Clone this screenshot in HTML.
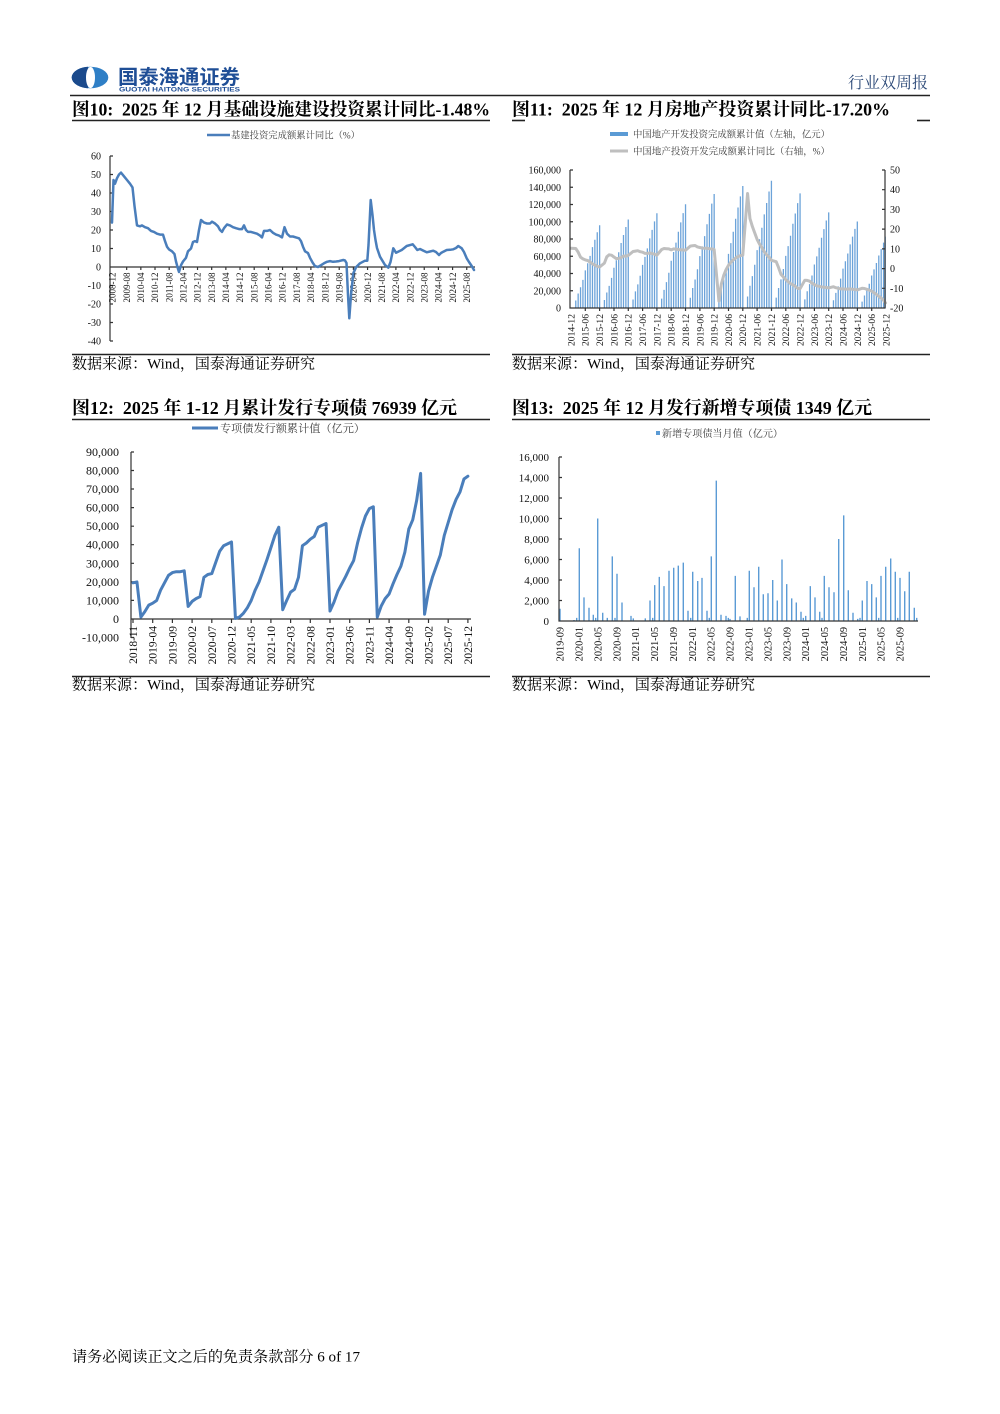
<!DOCTYPE html>
<html><head><meta charset="utf-8">
<style>
html,body{margin:0;padding:0;background:#fff;}
svg{display:block;}
.s{font-family:"Liberation Serif","Noto Serif CJK SC",serif;}
.b{font-family:"Liberation Serif","Noto Serif CJK SC",serif;font-weight:bold;}
.h{font-family:"Liberation Sans","Noto Sans CJK SC",sans-serif;font-weight:bold;}
.ax{stroke:#333;stroke-width:1.2;fill:none;}
.tk{font-family:"Liberation Serif",serif;fill:#111;}
</style></head>
<body>
<svg width="1000" height="1414" viewBox="0 0 1000 1414" xmlns="http://www.w3.org/2000/svg">
<rect width="1000" height="1414" fill="#fff"/>
<defs><clipPath id="lc"><rect x="60" y="60" width="28" height="40"/></clipPath></defs>
<!-- Header -->
<ellipse cx="90" cy="77.5" rx="18.3" ry="10.8" fill="#2f7fc6"/>
<ellipse cx="90" cy="77.5" rx="18.3" ry="10.8" fill="#1b4a8c" clip-path="url(#lc)"/>
<ellipse cx="90.5" cy="77.5" rx="4.5" ry="10.6" fill="#fff"/>
<text x="118" y="84" class="h" font-size="20" fill="#1f4e96" textLength="122" lengthAdjust="spacingAndGlyphs">国泰海通证券</text>
<text x="119" y="91.5" font-family="Liberation Sans,sans-serif" font-weight="bold" font-size="6.5" fill="#1f4e96" textLength="121" lengthAdjust="spacingAndGlyphs">GUOTAI HAITONG SECURITIES</text>
<text x="848" y="88" class="s" font-size="16" fill="#2b4877" textLength="80" lengthAdjust="spacingAndGlyphs">行业双周报</text>
<line x1="70" y1="95.5" x2="930" y2="95.5" stroke="#222" stroke-width="1.6"/>

<!-- Titles -->
<text x="72" y="115.5" class="b" font-size="18" fill="#000" textLength="418" lengthAdjust="spacingAndGlyphs" xml:space="preserve">图10:  2025 年 12 月基础设施建设投资累计同比-1.48%</text>
<line x1="72" y1="120.5" x2="490" y2="120.5" stroke="#222" stroke-width="1.6"/>
<text x="512" y="115.5" class="b" font-size="18" fill="#000" textLength="378" lengthAdjust="spacingAndGlyphs" xml:space="preserve">图11:  2025 年 12 月房地产投资累计同比-17.20%</text>
<line x1="512" y1="120.5" x2="525" y2="120.5" stroke="#222" stroke-width="1.6"/>
<line x1="917" y1="120.5" x2="930" y2="120.5" stroke="#222" stroke-width="1.6"/>

<!-- ================= Chart 10 ================= -->
<line x1="207" y1="135" x2="230" y2="135" stroke="#4a7ebb" stroke-width="2.5"/>
<text x="231" y="138.5" class="s" font-size="9.5" fill="#404040" textLength="129" lengthAdjust="spacingAndGlyphs">基建投资完成额累计同比（%）</text>
<g class="tk" font-size="10" text-anchor="end">
<text x="101" y="159.5">60</text><text x="101" y="178">50</text><text x="101" y="196.5">40</text><text x="101" y="215">30</text><text x="101" y="233.5">20</text><text x="101" y="252">10</text><text x="101" y="270.5">0</text><text x="101" y="289">-10</text><text x="101" y="307.5">-20</text><text x="101" y="326">-30</text><text x="101" y="344.5">-40</text>
</g>
<path class="ax" d="M110 156V341 M110 156h3 M110 174.5h3 M110 193h3 M110 211.5h3 M110 230h3 M110 248.5h3 M110 285.5h3 M110 304h3 M110 322.5h3 M110 341h3"/>
<path class="ax" d="M110 267H475 M126.67 267v3 M140.84 267v3 M155.01 267v3 M169.18 267v3 M183.35 267v3 M197.52 267v3 M211.69 267v3 M225.86 267v3 M240.03 267v3 M254.2 267v3 M268.37 267v3 M282.54 267v3 M296.71 267v3 M310.88 267v3 M325.05 267v3 M339.22 267v3 M353.39 267v3 M367.56 267v3 M381.73 267v3 M395.9 267v3 M410.07 267v3 M424.24 267v3 M438.41 267v3 M452.58 267v3 M466.75 267v3"/>
<g class="tk" font-size="9" text-anchor="end">
<text transform="translate(115.7,272.5) rotate(-90)">2008-12</text>
<text transform="translate(129.87,272.5) rotate(-90)">2009-08</text>
<text transform="translate(144.04,272.5) rotate(-90)">2010-04</text>
<text transform="translate(158.21,272.5) rotate(-90)">2010-12</text>
<text transform="translate(172.38,272.5) rotate(-90)">2011-08</text>
<text transform="translate(186.55,272.5) rotate(-90)">2012-04</text>
<text transform="translate(200.72,272.5) rotate(-90)">2012-12</text>
<text transform="translate(214.89,272.5) rotate(-90)">2013-08</text>
<text transform="translate(229.06,272.5) rotate(-90)">2014-04</text>
<text transform="translate(243.23,272.5) rotate(-90)">2014-12</text>
<text transform="translate(257.4,272.5) rotate(-90)">2015-08</text>
<text transform="translate(271.57,272.5) rotate(-90)">2016-04</text>
<text transform="translate(285.74,272.5) rotate(-90)">2016-12</text>
<text transform="translate(299.91,272.5) rotate(-90)">2017-08</text>
<text transform="translate(314.08,272.5) rotate(-90)">2018-04</text>
<text transform="translate(328.25,272.5) rotate(-90)">2018-12</text>
<text transform="translate(342.42,272.5) rotate(-90)">2019-08</text>
<text transform="translate(356.59,272.5) rotate(-90)">2020-04</text>
<text transform="translate(370.76,272.5) rotate(-90)">2020-12</text>
<text transform="translate(384.93,272.5) rotate(-90)">2021-08</text>
<text transform="translate(399.1,272.5) rotate(-90)">2022-04</text>
<text transform="translate(413.27,272.5) rotate(-90)">2022-12</text>
<text transform="translate(427.44,272.5) rotate(-90)">2023-08</text>
<text transform="translate(441.61,272.5) rotate(-90)">2024-04</text>
<text transform="translate(455.78,272.5) rotate(-90)">2024-12</text>
<text transform="translate(469.95,272.5) rotate(-90)">2025-08</text>
</g>
<polyline fill="none" stroke="#4a7ebb" stroke-width="2.5" stroke-linejoin="round" stroke-linecap="round" points="112,222.6 113.5,180 115,183.7 117,178.2 119,174.5 121,172.6 124,176.3 127,180 130,183.7 132.5,187.4 134.5,206 137,225.4 140,226.3 142,225.4 145,227.2 148,228.2 151,230.9 154,231.9 157,233.7 160,234.6 163,234.6 165,241.1 167,246.7 169,249.4 172,251.3 174.5,254.1 176,261.5 178,268.9 179,272 181,265.2 183,261.5 186,257.8 188,251.3 191,248.5 193,242 195,241.1 197,242 199,230 201,220 204,222.6 207,223.5 210,223.5 212,221.7 215,223.5 218,226.3 220,230 222,231.9 224,228.2 227,224.5 230,225.4 233,227.2 236,228.2 239,229.1 242,229.1 244,225.4 246,230 248,231.9 251,231.9 254,232.8 257,233.7 260,235.6 262,237.4 264,230.9 267,230.9 270,230 273,232.8 276,234.6 279,235.6 282,237.4 284.5,227.2 287,233.7 290,236.5 293,236.5 296,237.4 299,238.3 301,241.1 303,246.7 305,251.3 308,253.1 310,257.8 312.5,262.4 315,266.1 318,267 321,265.2 324,263.3 327,261.8 330,261.1 333,261.8 336,261.5 339,261.1 343.3,260 345,260.5 346.5,263 348,295 349.3,318.3 351,295 353.3,273.3 356,267.3 360,263.3 365,260.7 367.3,260.7 368.5,245 370.7,200 372.5,215 374,230 375.5,240 377,248 380,256.7 385,265 388.3,267.7 390.5,262 393.3,248.3 396,252.7 401.7,250 406.7,246 412.7,244.3 415,247 417.3,250 420,249 423,250.5 426.7,252.3 430,251.5 433.3,250.7 436,252 439,255 441,253 443.3,251.7 446.7,250 450,249.8 453.3,249.3 456,248 458.3,246 461.7,248.3 464,252 466.7,258.3 469,262 471.7,266 474,270"/>

<line x1="72" y1="354.5" x2="490" y2="354.5" stroke="#222" stroke-width="1.6"/>
<text x="72" y="368.5" class="s" font-size="15" fill="#000" textLength="243" lengthAdjust="spacingAndGlyphs">数据来源：Wind，国泰海通证券研究</text>

<!-- ================= Chart 11 ================= -->
<rect x="610" y="132" width="18" height="4" fill="#5b9bd5"/>
<text x="633" y="137.5" class="s" font-size="9.5" fill="#404040" textLength="197" lengthAdjust="spacingAndGlyphs">中国地产开发投资完成额累计值（左轴，亿元）</text>
<line x1="610" y1="151" x2="628" y2="151" stroke="#bfbfbf" stroke-width="3"/>
<text x="633" y="154.5" class="s" font-size="9.5" fill="#404040" textLength="197" lengthAdjust="spacingAndGlyphs">中国地产投资开发完成额累计同比（右轴，%）</text>
<g class="tk" font-size="10" text-anchor="end">
<text x="561" y="173.5">160,000</text><text x="561" y="190.75">140,000</text><text x="561" y="208">120,000</text><text x="561" y="225.25">100,000</text><text x="561" y="242.5">80,000</text><text x="561" y="259.75">60,000</text><text x="561" y="277">40,000</text><text x="561" y="294.25">20,000</text><text x="561" y="311.5">0</text>
</g>
<g class="tk" font-size="10">
<text x="890" y="173.5">50</text><text x="890" y="193.2">40</text><text x="890" y="212.9">30</text><text x="890" y="232.6">20</text><text x="890" y="252.4">10</text><text x="890" y="272.1">0</text><text x="890" y="291.8">-10</text><text x="890" y="311.5">-20</text>
</g>
<g fill="none" stroke="#6ca3d9" stroke-width="1.3">
<path d="M575.77 308V300.55M578.16 308V293.51M580.54 308V287.3M582.93 308V279.85M585.32 308V270.34M587.7 308V263.3M590.09 308V255.85M592.47 308V247.16M594.86 308V239.71M597.25 308V232.26M599.63 308V225.22"/>
<path d="M604.4 308V300.04M606.79 308V292.52M609.18 308V285.88M611.56 308V277.92M613.95 308V267.74M616.33 308V260.22M618.72 308V252.26M621.11 308V242.97M623.49 308V235M625.88 308V227.04M628.26 308V219.52"/>
<path d="M633.04 308V299.48M635.42 308V291.43M637.81 308V284.32M640.19 308V275.8M642.58 308V264.91M644.97 308V256.86M647.35 308V248.34M649.74 308V238.4M652.12 308V229.87M654.51 308V221.35M656.9 308V213.3"/>
<path d="M661.67 308V298.66M664.05 308V289.85M666.44 308V282.07M668.83 308V272.73M671.21 308V260.8M673.6 308V251.99M675.98 308V242.65M678.37 308V231.76M680.76 308V222.42M683.14 308V213.09M685.53 308V204.27"/>
<path d="M690.3 308V297.74M692.69 308V288.05M695.07 308V279.49M697.46 308V269.23M699.84 308V256.12M702.23 308V246.43M704.62 308V236.17M707 308V224.2M709.39 308V213.93M711.77 308V203.67M714.16 308V193.98"/>
<path d="M718.93 308V299.22M721.32 308V289.09M723.7 308V279.45M726.09 308V268.35M728.48 308V253.83M730.86 308V243.1M733.25 308V231.75M735.63 308V218.7M738.02 308V207.47M740.41 308V196.37M742.79 308V186"/>
<path d="M747.56 308V296.54M749.95 308V285.72M752.34 308V276.17M754.72 308V264.71M757.11 308V250.07M759.49 308V239.25M761.88 308V227.79M764.27 308V214.43M766.65 308V202.97M769.04 308V191.51M771.42 308V180.69"/>
<path d="M776.2 308V297.68M778.58 308V287.94M780.97 308V279.34M783.35 308V269.03M785.74 308V255.85M788.13 308V246.11M790.51 308V235.79M792.9 308V223.75M795.28 308V213.44M797.67 308V203.12M800.06 308V193.38"/>
<path d="M804.83 308V299.39M807.21 308V291.26M809.6 308V284.08M811.99 308V275.48M814.37 308V264.47M816.76 308V256.34M819.14 308V247.73M821.53 308V237.69M823.92 308V229.08M826.3 308V220.47M828.69 308V212.34"/>
<path d="M833.46 308V300.22M835.85 308V292.86M838.23 308V286.38M840.62 308V278.59M843 308V268.65M845.39 308V261.3M847.78 308V253.51M850.16 308V244.43M852.55 308V236.65M854.93 308V228.86M857.32 308V221.51"/>
<path d="M862.09 308V301.57M864.48 308V295.5M866.86 308V290.14M869.25 308V283.72M871.64 308V275.5M874.02 308V269.43M876.41 308V263M878.79 308V255.51M881.18 308V249.08M883.57 308V242.65M885.2 308V236.58"/>
</g>
<polyline fill="none" stroke="#bfbfbf" stroke-width="3" stroke-linejoin="round" stroke-linecap="round" points="571,248.3 575.77,248.5 578.16,252.2 580.54,257.2 582.93,258.9 585.32,259.9 587.7,260.5 590.09,262.1 592.47,263.9 594.86,265.1 597.25,266.4 599.63,267 604.4,263.1 606.79,256.8 609.18,254.8 611.56,255.2 613.95,257 616.33,258.6 618.72,258.4 621.11,257.6 623.49,256 625.88,256.2 628.26,255.4 633.04,251.5 635.42,251.1 637.81,250.7 640.19,251.7 642.58,252.2 644.97,253.4 647.35,253.4 649.74,253 652.12,253.6 654.51,254.2 656.9,255.2 661.67,249.5 664.05,248.5 666.44,248.7 668.83,248.9 671.21,249.9 673.6,248.9 675.98,249.1 678.37,249.5 680.76,249.9 683.14,249.9 685.53,250.3 690.3,246.1 692.69,245.7 695.07,245.5 697.46,246.9 699.84,247.5 702.23,248.1 704.62,248.3 707,248.3 709.39,248.7 711.77,248.9 714.16,249.5 718.93,301.1 721.32,284.2 723.7,275.5 726.09,269.6 728.48,265.3 730.86,262.3 733.25,259.9 735.63,258 738.02,256.6 740.41,255.6 742.79,255.2 747.56,193.5 749.95,218.5 752.34,226.4 754.72,232.9 757.11,239.4 759.49,244 761.88,247.5 764.27,251.7 766.65,254.8 769.04,257.2 771.42,260.3 776.2,261.7 778.58,267.6 780.97,274.3 783.35,276.9 785.74,279.6 788.13,281.6 790.51,283.6 792.9,284.8 795.28,286.3 797.67,288.3 800.06,288.7 804.83,280.2 807.21,280.4 809.6,281.2 811.99,283.2 814.37,284.6 816.76,285.8 819.14,286.3 821.53,286.9 823.92,287.3 826.3,287.5 828.69,287.9 833.46,286.7 835.85,287.7 838.23,288.3 840.62,288.9 843,288.9 845.39,289.1 847.78,289.1 850.16,288.9 852.55,289.3 854.93,289.5 857.32,289.9 862.09,288.3 864.48,288.5 866.86,289.3 869.25,290.1 871.64,291.1 874.02,292.7 876.41,294.4 878.79,296.4 881.18,298 883.57,300.3 885.5,302.9"/>
<path class="ax" d="M570 170V308H885V170 M570 170h3 M570 187.25h3 M570 204.5h3 M570 221.75h3 M570 239h3 M570 256.25h3 M570 273.5h3 M570 290.75h3 M885 170h-3 M885 189.7h-3 M885 209.4h-3 M885 229.1h-3 M885 248.9h-3 M885 268.6h-3 M885 288.3h-3"/>
<path class="ax" d="M585.3 308v3 M599.6 308v3 M614 308v3 M628.3 308v3 M642.6 308v3 M656.9 308v3 M671.2 308v3 M685.5 308v3 M699.9 308v3 M714.2 308v3 M728.5 308v3 M742.8 308v3 M757.1 308v3 M771.5 308v3 M785.8 308v3 M800.1 308v3 M814.4 308v3 M828.7 308v3 M843 308v3 M857.4 308v3 M871.7 308v3"/>
<g class="tk" font-size="9.6" text-anchor="end">
<text transform="translate(574.4,314) rotate(-90)">2014-12</text>
<text transform="translate(588.7,314) rotate(-90)">2015-06</text>
<text transform="translate(603,314) rotate(-90)">2015-12</text>
<text transform="translate(617.4,314) rotate(-90)">2016-06</text>
<text transform="translate(631.7,314) rotate(-90)">2016-12</text>
<text transform="translate(646,314) rotate(-90)">2017-06</text>
<text transform="translate(660.3,314) rotate(-90)">2017-12</text>
<text transform="translate(674.6,314) rotate(-90)">2018-06</text>
<text transform="translate(688.9,314) rotate(-90)">2018-12</text>
<text transform="translate(703.3,314) rotate(-90)">2019-06</text>
<text transform="translate(717.6,314) rotate(-90)">2019-12</text>
<text transform="translate(731.9,314) rotate(-90)">2020-06</text>
<text transform="translate(746.2,314) rotate(-90)">2020-12</text>
<text transform="translate(760.5,314) rotate(-90)">2021-06</text>
<text transform="translate(774.9,314) rotate(-90)">2021-12</text>
<text transform="translate(789.2,314) rotate(-90)">2022-06</text>
<text transform="translate(803.5,314) rotate(-90)">2022-12</text>
<text transform="translate(817.8,314) rotate(-90)">2023-06</text>
<text transform="translate(832.1,314) rotate(-90)">2023-12</text>
<text transform="translate(846.4,314) rotate(-90)">2024-06</text>
<text transform="translate(860.8,314) rotate(-90)">2024-12</text>
<text transform="translate(875.1,314) rotate(-90)">2025-06</text>
<text transform="translate(889.4,314) rotate(-90)">2025-12</text>
</g>
<line x1="512" y1="354.5" x2="930" y2="354.5" stroke="#222" stroke-width="1.6"/>
<text x="512" y="368.5" class="s" font-size="15" fill="#000" textLength="243" lengthAdjust="spacingAndGlyphs">数据来源：Wind，国泰海通证券研究</text>

<!-- ================= Chart 12 ================= -->
<text x="72" y="414" class="b" font-size="18" fill="#000" textLength="385" lengthAdjust="spacingAndGlyphs" xml:space="preserve">图12:  2025 年 1-12 月累计发行专项债 76939 亿元</text>
<line x1="72" y1="419.5" x2="490" y2="419.5" stroke="#222" stroke-width="1.6"/>
<line x1="192" y1="428" x2="218" y2="428" stroke="#4a7ebb" stroke-width="3"/>
<text x="220" y="432" class="s" font-size="11" fill="#404040" textLength="145" lengthAdjust="spacingAndGlyphs">专项债发行额累计值（亿元）</text>
<g class="tk" font-size="12" text-anchor="end">
<text x="119" y="456">90,000</text><text x="119" y="474.5">80,000</text><text x="119" y="493">70,000</text><text x="119" y="511.6">60,000</text><text x="119" y="530.2">50,000</text><text x="119" y="548.7">40,000</text><text x="119" y="567.3">30,000</text><text x="119" y="585.8">20,000</text><text x="119" y="604.4">10,000</text><text x="119" y="623">0</text><text x="119" y="641.5">-10,000</text>
</g>
<path class="ax" d="M131 452V638 M131 452h3 M131 470.5h3 M131 489h3 M131 507.6h3 M131 526.2h3 M131 544.7h3 M131 563.3h3 M131 581.8h3 M131 600.4h3 M131 637.5h3"/>
<path class="ax" d="M131 619H471 M133 619v4 M152.7 619v4 M172.4 619v4 M192.1 619v4 M211.8 619v4 M231.5 619v4 M251.2 619v4 M270.9 619v4 M290.6 619v4 M310.3 619v4 M330 619v4 M349.7 619v4 M369.4 619v4 M389.1 619v4 M408.8 619v4 M428.5 619v4 M448.2 619v4 M467.9 619v4"/>
<g class="tk" font-size="11.5" text-anchor="end">
<text transform="translate(137,626) rotate(-90)">2018-11</text>
<text transform="translate(156.7,626) rotate(-90)">2019-04</text>
<text transform="translate(176.4,626) rotate(-90)">2019-09</text>
<text transform="translate(196.1,626) rotate(-90)">2020-02</text>
<text transform="translate(215.8,626) rotate(-90)">2020-07</text>
<text transform="translate(235.5,626) rotate(-90)">2020-12</text>
<text transform="translate(255.2,626) rotate(-90)">2021-05</text>
<text transform="translate(274.9,626) rotate(-90)">2021-10</text>
<text transform="translate(294.6,626) rotate(-90)">2022-03</text>
<text transform="translate(314.3,626) rotate(-90)">2022-08</text>
<text transform="translate(334,626) rotate(-90)">2023-01</text>
<text transform="translate(353.7,626) rotate(-90)">2023-06</text>
<text transform="translate(373.4,626) rotate(-90)">2023-11</text>
<text transform="translate(393.1,626) rotate(-90)">2024-04</text>
<text transform="translate(412.8,626) rotate(-90)">2024-09</text>
<text transform="translate(432.5,626) rotate(-90)">2025-02</text>
<text transform="translate(452.2,626) rotate(-90)">2025-07</text>
<text transform="translate(471.9,626) rotate(-90)">2025-12</text>
</g>
<polyline fill="none" stroke="#4a7ebb" stroke-width="3" stroke-linejoin="round" stroke-linecap="round" points="133,582.8 136.94,581.9 140.88,617.1 144.82,611.6 148.76,605.1 152.7,603.2 156.64,600.5 160.58,590.2 164.52,582.8 168.46,575.4 172.4,572.6 176.34,571.7 180.28,571.7 184.22,570.8 188.16,606.4 192.1,601.4 196.04,598.6 199.98,596.7 203.92,577.3 207.86,574.5 211.8,573.6 215.74,562.4 219.68,551.3 223.62,545.7 227.56,543.9 231.5,542 235.44,618.4 239.38,617.1 243.32,613.4 247.26,607.9 251.2,600.5 255.14,590.2 259.08,581.9 263.02,570.8 266.96,559.6 270.9,547.6 274.84,535.5 278.78,527.2 282.72,609.7 286.66,600.5 290.6,592.1 294.54,589.3 298.48,577.3 302.42,545.7 306.36,543 310.3,539.2 314.24,536.5 318.18,527.2 322.12,525.3 326.06,523.5 330,611 333.94,602.3 337.88,591.2 341.82,583.8 345.76,576.3 349.7,568 353.64,560.6 357.58,542.9 361.52,528.1 365.46,516 369.4,508.6 373.34,506.8 377.28,617.1 381.22,606 385.16,598.6 389.1,594 393.04,583.8 396.98,574.5 400.92,566.1 404.86,552.2 408.8,529 412.74,519.8 416.68,500.3 420.62,473.4 424.56,614.2 428.5,591.2 432.44,577.3 436.38,566.1 440.32,555 444.26,535.5 448.2,522.5 452.14,509.6 456.08,499.4 460.02,491.9 463.96,479 467.9,476.2"/>
<line x1="72" y1="676.5" x2="490" y2="676.5" stroke="#222" stroke-width="1.6"/>
<text x="72" y="689.5" class="s" font-size="15" fill="#000" textLength="243" lengthAdjust="spacingAndGlyphs">数据来源：Wind，国泰海通证券研究</text>

<!-- ================= Chart 13 ================= -->
<text x="512" y="414" class="b" font-size="18" fill="#000" textLength="360" lengthAdjust="spacingAndGlyphs" xml:space="preserve">图13:  2025 年 12 月发行新增专项债 1349 亿元</text>
<line x1="512" y1="419.5" x2="930" y2="419.5" stroke="#222" stroke-width="1.6"/>
<rect x="656" y="431" width="4" height="4" fill="#5b9bd5"/>
<text x="662" y="437" class="s" font-size="10" fill="#404040" textLength="121" lengthAdjust="spacingAndGlyphs">新增专项债当月值（亿元）</text>
<g class="tk" font-size="11" text-anchor="end">
<text x="549" y="460.8">16,000</text><text x="549" y="481.3">14,000</text><text x="549" y="501.8">12,000</text><text x="549" y="522.3">10,000</text><text x="549" y="542.8">8,000</text><text x="549" y="563.3">6,000</text><text x="549" y="583.8">4,000</text><text x="549" y="604.3">2,000</text><text x="549" y="624.8">0</text>
</g>
<path fill="none" stroke="#5b9bd5" stroke-width="1.4" d="M560 621V608.7M574 621V620M576.7 621V617.9M579.3 621V548.2M584 621V597.4M589 621V607.7M593.3 621V614.8M595.7 621V617.9M597.7 621V518.5M602.7 621V612.8M607.3 621V617.9M612.3 621V556.4M615 621V617.9M617 621V573.8M622 621V602.5M631 621V615.9M633.3 621V618.4M645.3 621V618.4M650 621V600.5M652.7 621V617.9M654.7 621V585.1M659.3 621V576.9M664 621V586.1M669 621V570.8M673.7 621V567.7M678.3 621V565.6M683.3 621V562.6M688 621V610.7M690.7 621V617.9M692.7 621V571.8M697.7 621V581M702 621V577.9M707 621V610.7M709.3 621V617.9M711.3 621V556.4M716.3 621V480.6M721 621V614.8M726 621V615.9M728.3 621V617.9M730 621V618.9M735.3 621V575.9M740 621V616.4M747.3 621V617.9M749.3 621V570.8M754 621V587.2M758.7 621V566.7M763.3 621V594.3M768 621V593.3M772.7 621V580M777.3 621V600.5M782 621V559.5M786.7 621V584.1M791.7 621V598.4M796.3 621V602.5M801 621V611.8M803.3 621V617.9M805.7 621V615.9M810.3 621V586.1M815 621V597.4M819.7 621V611.8M822 621V617.9M824.3 621V575.9M829 621V587.2M834 621V592.3M838.7 621V539M843.7 621V515.4M848.3 621V590.2M853 621V612.8M857.7 621V618.9M860 621V617.9M862.3 621V600.5M867 621V581M871.7 621V584.1M876.3 621V597.4M878.7 621V617.9M881 621V575.9M885.7 621V566.7M890.7 621V558.5M895.3 621V571.8M897.7 621V617.9M900 621V577.9M904.7 621V591.3M909.3 621V571.8M914.3 621V607.7M916.7 621V617.9"/>
<path class="ax" d="M559 457V621H918 M559 457h3 M559 477.5h3 M559 498h3 M559 518.5h3 M559 539h3 M559 559.5h3 M559 580h3 M559 600.5h3"/>
<g class="tk" font-size="10.3" text-anchor="end">
<text transform="translate(563.6,627) rotate(-90)">2019-09</text>
<text transform="translate(582.5,627) rotate(-90)">2020-01</text>
<text transform="translate(601.4,627) rotate(-90)">2020-05</text>
<text transform="translate(620.3,627) rotate(-90)">2020-09</text>
<text transform="translate(639.2,627) rotate(-90)">2021-01</text>
<text transform="translate(658,627) rotate(-90)">2021-05</text>
<text transform="translate(676.9,627) rotate(-90)">2021-09</text>
<text transform="translate(695.8,627) rotate(-90)">2022-01</text>
<text transform="translate(714.7,627) rotate(-90)">2022-05</text>
<text transform="translate(733.6,627) rotate(-90)">2022-09</text>
<text transform="translate(752.5,627) rotate(-90)">2023-01</text>
<text transform="translate(771.4,627) rotate(-90)">2023-05</text>
<text transform="translate(790.3,627) rotate(-90)">2023-09</text>
<text transform="translate(809.2,627) rotate(-90)">2024-01</text>
<text transform="translate(828,627) rotate(-90)">2024-05</text>
<text transform="translate(846.9,627) rotate(-90)">2024-09</text>
<text transform="translate(865.8,627) rotate(-90)">2025-01</text>
<text transform="translate(884.7,627) rotate(-90)">2025-05</text>
<text transform="translate(903.6,627) rotate(-90)">2025-09</text>
</g>
<line x1="512" y1="676.5" x2="930" y2="676.5" stroke="#222" stroke-width="1.6"/>
<text x="512" y="689.5" class="s" font-size="15" fill="#000" textLength="243" lengthAdjust="spacingAndGlyphs">数据来源：Wind，国泰海通证券研究</text>

<!-- Footer -->
<text x="72" y="1361.5" class="s" font-size="15" fill="#000" textLength="288" lengthAdjust="spacingAndGlyphs">请务必阅读正文之后的免责条款部分 6 of 17</text>
</svg>
</body></html>
